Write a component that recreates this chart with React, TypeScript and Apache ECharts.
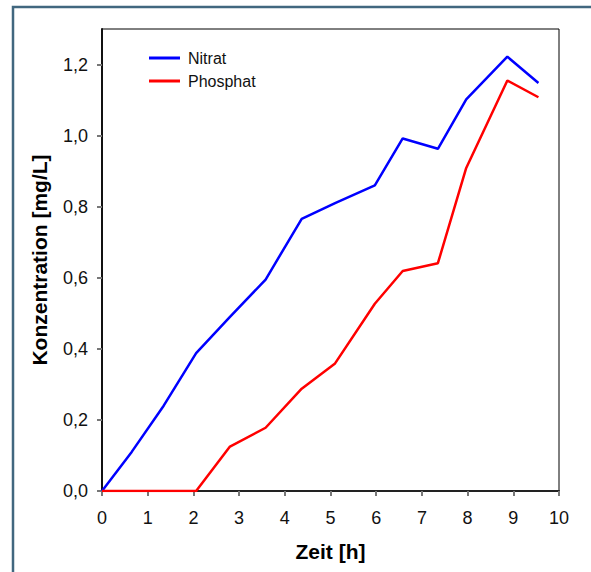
import React, { useEffect, useRef } from "react";
import * as echarts from "echarts";

const timeHours = [0, 0.65, 1.35, 2.06, 2.8, 3.58, 4.37, 5.1, 5.97, 6.58, 7.35, 7.97, 8.87, 9.55];
const nitrat = [0, 0.11, 0.24, 0.388, 0.49, 0.595, 0.766, 0.81, 0.86, 0.992, 0.963, 1.102, 1.222, 1.148];
const phosphat = [0, 0, 0, 0, 0.125, 0.178, 0.288, 0.359, 0.527, 0.619, 0.641, 0.909, 1.155, 1.108];
const yTicks = [0, 0.2, 0.4, 0.6, 0.8, 1.0, 1.2];
const seriesNames = ["Nitrat", "Phosphat"];

const FONT = "'Liberation Sans', Arial, sans-serif";

export default function App() {
  const ref = useRef<HTMLDivElement>(null);
  useEffect(() => {
    if (!ref.current) return;
    const chart = echarts.init(ref.current, null, { renderer: "svg" });
    chart.setOption({
      animation: false,
      backgroundColor: "#ffffff",
      textStyle: { fontFamily: FONT },
      grid: {
        left: 102,
        top: 29,
        right: 32,
        bottom: 81,
        show: true,
        borderColor: "#000",
        borderWidth: 1,
        backgroundColor: "transparent",
      },
      legend: {
        orient: "vertical",
        left: 149,
        top: 50,
        padding: 0,
        itemWidth: 31,
        itemHeight: 3,
        itemGap: 7,
        icon: "rect",
        textStyle: { fontSize: 16, lineHeight: 16, color: "#111", fontFamily: FONT, padding: [0, 0, 0, 3] },
        data: seriesNames,
      },
      graphic: [
        {
          type: "rect",
          shape: { x: 13, y: 7, width: 620, height: 620 },
          style: { fill: "none", stroke: "#41677f", lineWidth: 2.5 },
          silent: true,
        },
      ],
      xAxis: {
        type: "value",
        min: 0,
        max: 10,
        interval: 1,
        name: "Zeit [h]",
        nameLocation: "middle",
        nameGap: 50,
        nameTextStyle: { fontSize: 21, fontWeight: "bold", color: "#000", fontFamily: FONT },
        axisLine: { show: true, onZero: false, lineStyle: { color: "#222", width: 2 } },
        axisTick: { show: true, length: 5, lineStyle: { color: "#777", width: 2 } },
        axisLabel: { fontSize: 18, color: "#111", margin: 18, fontFamily: FONT },
        splitLine: { show: false },
      },
      yAxis: {
        type: "value",
        min: 0,
        max: 1.3,
        interval: 0.2,
        name: "Konzentration [mg/L]",
        nameLocation: "middle",
        nameGap: 52,
        nameTextStyle: { fontSize: 21, fontWeight: "bold", color: "#000", fontFamily: FONT },
        axisLine: { show: true, onZero: false, lineStyle: { color: "#111", width: 2 } },
        axisTick: { show: true, length: 5, lineStyle: { color: "#777", width: 2 }, customValues: yTicks },
        axisLabel: {
          fontSize: 18,
          color: "#111",
          margin: 14,
          fontFamily: FONT,
          customValues: yTicks,
          formatter: (v: number) => v.toFixed(1).replace(".", ","),
        },
        splitLine: { show: false },
      },
      series: [
        {
          name: seriesNames[0],
          type: "line",
          data: timeHours.map((t, i) => [t, nitrat[i]]),
          showSymbol: false,
          symbol: "none",
          lineStyle: { color: "#0000ff", width: 2.5 },
          itemStyle: { color: "#0000ff" },
        },
        {
          name: seriesNames[1],
          type: "line",
          data: timeHours.map((t, i) => [t, phosphat[i]]),
          showSymbol: false,
          symbol: "none",
          lineStyle: { color: "#ff0000", width: 2.5 },
          itemStyle: { color: "#ff0000" },
        },
      ],
    });
    return () => chart.dispose();
  }, []);
  return (
    <div
      ref={ref}
      style={{ position: "absolute", left: 0, top: 0, width: 591, height: 572 }}
    />
  );
}
